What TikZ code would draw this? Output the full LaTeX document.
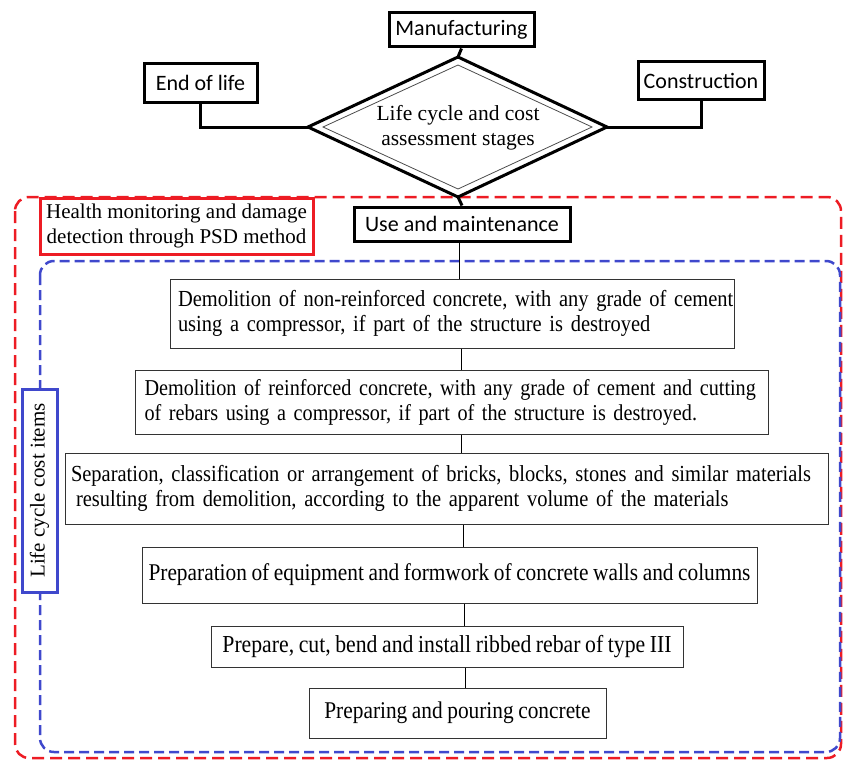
\documentclass[tikz,border=0pt]{standalone}
\usepackage{fontspec}
\setmainfont{Liberation Serif}
\newfontfamily\calib{Carlito}
\newfontfamily\itemfont[FakeStretch=0.89,WordSpace=0.85]{Liberation Serif}
\definecolor{myred}{RGB}{237,28,36}
\definecolor{myblue}{RGB}{63,72,204}
\begin{document}
\begin{tikzpicture}[x=1pt,y=-1pt,
  topbox/.style={draw=black,line width=3pt,font=\calib\fontsize{22}{25}\selectfont,inner sep=0pt,align=center},
  itembox/.style={draw=black!80,line width=1pt,font=\itemfont\fontsize{23}{25}\selectfont,inner ysep=0pt,align=left},
  onebox/.style={draw=black!80,line width=1pt,font=\itemfont\fontsize{24}{25}\selectfont,inner sep=0pt,align=center},
  conn/.style={draw=black,line width=1pt},
  thickconn/.style={draw=black,line width=3pt}]
\useasboundingbox (0,0) rectangle (843,760);
% outer dashed frames
\draw[myred,line width=2.5pt,dash pattern=on 12pt off 6pt,rounded corners=14pt] (15,197) rectangle (841,758);
\draw[myblue,line width=2.5pt,dash pattern=on 10pt off 5pt,rounded corners=14pt] (40,261) rectangle (840,752);
% top boxes
\node[topbox,minimum width=145pt,minimum height=34pt] (man) at (461.5,30) {Manufacturing};
\node[topbox,minimum width=113pt,minimum height=38pt] (eol) at (200.5,83) {End of life};
\node[topbox,minimum width=126pt,minimum height=37pt] (con) at (701,80.5) {Construction};
\node[topbox,fill=white,minimum width=216pt,minimum height=34pt] (use) at (462,224) {Use and maintenance};
% diamond
\coordinate (dT) at (458,57);
\coordinate (dR) at (607,127);
\coordinate (dB) at (458,197);
\coordinate (dL) at (308,127);
\draw[line width=3pt,line join=miter] (dT) -- (dR) -- (dB) -- (dL) -- cycle;
\draw[black!70,line width=0.8pt] (458,65) -- (592,127) -- (458,189) -- (323,127) -- cycle;
\node[font=\fontsize{21.5}{25}\selectfont,align=center] (dia) at (458,128) {Life cycle and cost\\assessment stages};
\draw[thickconn] (man.south) -- (dT);
\draw[thickconn] (eol.south) |- (dL);
\draw[thickconn] (con.south) |- (dR);
\draw[thickconn] (dB) -- (use.north);
% side labels
\node[draw=myred,line width=3pt,fill=white,minimum width=273pt,minimum height=56pt,inner sep=0pt,align=center,font=\fontsize{21}{25}\selectfont] (hm) at (176.5,226) {Health monitoring and damage\\detection through PSD method};
\node[draw=myblue,line width=3pt,fill=white,minimum width=203pt,minimum height=35pt,inner sep=0pt,rotate=90,font=\fontsize{21}{24}\selectfont] (lcc) at (39.5,490.5) {Life cycle cost items};
% item boxes
\node[itembox,inner xsep=8pt,text width=548pt,minimum height=69pt] (b1) at (452,313.5) {\mbox{Demolition of non-reinforced concrete, with any grade of cement}\\\mbox{using a compressor, if part of the structure is destroyed}};
\node[itembox,font=\itemfont\fontsize{22.7}{25}\selectfont,inner xsep=9.5pt,text width=614pt,minimum height=64pt] (b2) at (451.5,402) {\mbox{Demolition of reinforced concrete, with any grade of cement and cutting}\\\mbox{of rebars using a compressor, if part of the structure is destroyed.}};
\node[itembox,inner xsep=6pt,text width=751pt,minimum height=71pt] (b3) at (446.5,488.5) {\mbox{Separation, classification or arrangement of bricks, blocks, stones and similar materials}\\\mbox{\hspace*{5pt}resulting from demolition, according to the apparent volume of the materials}};
\node[onebox,minimum width=615pt,minimum height=56pt] (b4) at (449.5,575) {Preparation of equipment and formwork of concrete walls and columns};
\node[onebox,font=\itemfont\fontsize{24.4}{25}\selectfont,minimum width=472pt,minimum height=41pt] (b5) at (447,646.5) {Prepare, cut, bend and install ribbed rebar of type III};
\node[onebox,minimum width=297pt,minimum height=50pt] (b6) at (457.5,713) {Preparing and pouring concrete};
\draw[conn] (459,0 |- use.south) -- (459,0 |- b1.north);
\draw[conn] (461,0 |- b1.south) -- (461,0 |- b2.north);
\draw[conn] (461,0 |- b2.south) -- (461,0 |- b3.north);
\draw[conn] (463,0 |- b3.south) -- (463,0 |- b4.north);
\draw[conn] (464,0 |- b4.south) -- (464,0 |- b5.north);
\draw[conn] (465,0 |- b5.south) -- (465,0 |- b6.north);
\end{tikzpicture}
\end{document}
